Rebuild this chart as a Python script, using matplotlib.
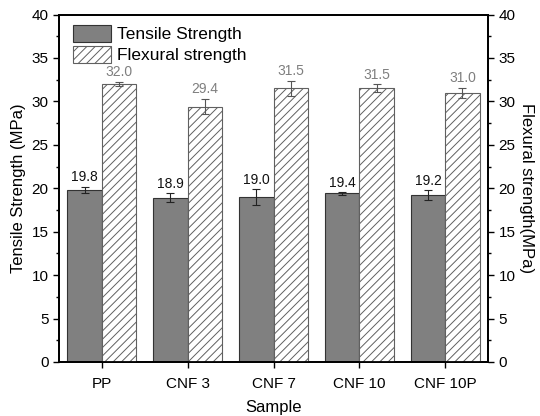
import numpy as np
import matplotlib
matplotlib.use("Agg")
import matplotlib.pyplot as plt
from matplotlib.ticker import MultipleLocator

plt.rcParams['font.family'] = ['Liberation Sans', 'DejaVu Sans']
plt.rcParams['hatch.color'] = '#8c8c8c'
plt.rcParams['hatch.linewidth'] = 0.7

samples = ['PP', 'CNF 3', 'CNF 7', 'CNF 10', 'CNF 10P']
tensile = [19.8, 18.9, 19.0, 19.4, 19.2]
tensile_err = [0.4, 0.5, 0.9, 0.15, 0.55]
flexural = [32.0, 29.4, 31.5, 31.5, 31.0]
flexural_err = [0.25, 0.9, 0.9, 0.45, 0.6]

fig = plt.figure(figsize=(5.4, 4.16), dpi=100)
ax = fig.add_axes([0.109, 0.130, 0.795, 0.835])
ax2 = ax.twinx()

x = np.arange(len(samples))
w = 0.4

b1 = ax.bar(x - w / 2, tensile, w, color='#808080', edgecolor='#333333',
            linewidth=0.8, label='Tensile Strength', zorder=2)
ax.errorbar(x - w / 2, tensile, yerr=tensile_err, fmt='none', ecolor='#222222',
            elinewidth=0.8, capsize=3, capthick=0.8, zorder=3)
b2 = ax2.bar(x + w / 2, flexural, w, color='white', edgecolor='#606060',
             hatch='////', linewidth=0.8, label='Flexural strength', zorder=2)
ax2.errorbar(x + w / 2, flexural, yerr=flexural_err, fmt='none', ecolor='#555555',
             elinewidth=0.8, capsize=3, capthick=0.8, zorder=3)

for xi, v, e in zip(x, tensile, tensile_err):
    ax.text(xi - w / 2, v + e + 0.3, f'{v:.1f}', ha='center', va='bottom',
            fontsize=10, color='#111111')
for xi, v, e in zip(x, flexural, flexural_err):
    ax2.text(xi + w / 2, v + e + 0.3, f'{v:.1f}', ha='center', va='bottom',
             fontsize=10, color='#7f7f7f')

for a in (ax, ax2):
    a.set_ylim(0, 40)
    a.set_xlim(-0.5, 4.5)
    a.yaxis.set_major_locator(MultipleLocator(5))
    a.yaxis.set_minor_locator(MultipleLocator(2.5))
    a.tick_params(axis='both', which='major', direction='out', length=4,
                  width=1, labelsize=11)
    a.tick_params(axis='y', which='minor', direction='out', length=2.5, width=1)
    for s in a.spines.values():
        s.set_linewidth(1.3)

ax.set_xticks(x)
ax.set_xticklabels(samples)
ax.tick_params(axis='x', pad=7)
ax.set_xlabel('Sample', fontsize=12, labelpad=6)
ax.set_ylabel('Tensile Strength (MPa)', fontsize=12, labelpad=4)
ax2.set_ylabel('Flexural strength(MPa)', fontsize=12, rotation=270, labelpad=13)

ax.legend([b1, b2], ['Tensile Strength', 'Flexural strength'], loc='upper left',
          frameon=False, fontsize=12.5, handlelength=2.2, handleheight=1.15,
          borderaxespad=0.0, borderpad=0.3, labelspacing=0.2, handletextpad=0.35,
          bbox_to_anchor=(0.02, 0.985))

fig.savefig('out.png', dpi=100)
